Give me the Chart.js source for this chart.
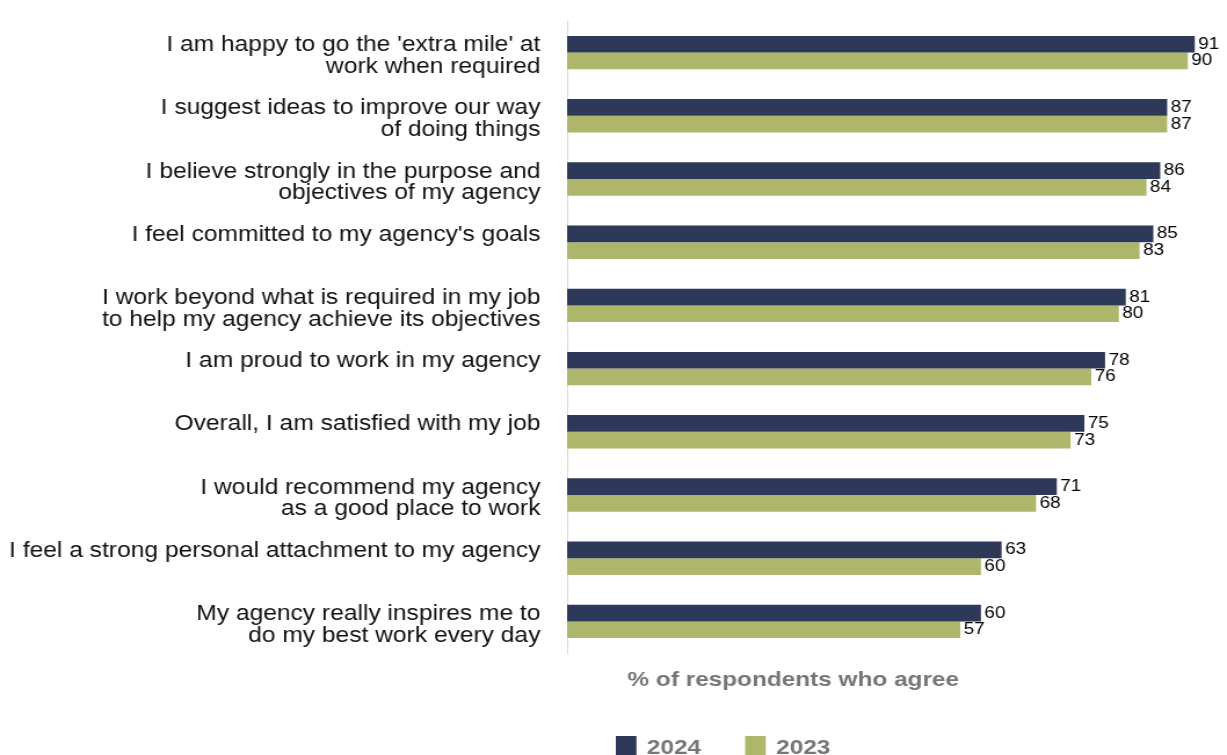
<!DOCTYPE html>
<html>
<head>
<meta charset="utf-8">
<script src="https://cdn.jsdelivr.net/npm/chart.js@4/dist/chart.umd.min.js"></script>
<style>
  html, body { margin: 0; padding: 0; background: #fff; overflow: hidden; }
  /* the chart is laid out on a narrower box and widened to the window */
  #wrap { width: 1058px; height: 755px; transform: scaleX(1.1597); transform-origin: 0 0; }
</style>
</head>
<body>
<div id="wrap"><canvas id="engagement"></canvas></div>
<script>
// Survey items, top to bottom (single-line items get an empty 2nd line so they sit like the others)
const items = [
    ["I am happy to go the 'extra mile' at", "work when required"],
    ["I suggest ideas to improve our way", "of doing things"],
    ["I believe strongly in the purpose and", "objectives of my agency"],
    ["I feel committed to my agency's goals", ""],
    ["I work beyond what is required in my job", "to help my agency achieve its objectives"],
    ["I am proud to work in my agency", ""],
    ["Overall, I am satisfied with my job", ""],
    ["I would recommend my agency", "as a good place to work"],
    ["I feel a strong personal attachment to my agency", ""],
    ["My agency really inspires me to", "do my best work every day"]
];

const years = ['2024', '2023'];
const agree2024 = [91, 87, 86, 85, 81, 78, 75, 71, 63, 60];
const agree2023 = [90, 87, 84, 83, 80, 76, 73, 68, 60, 57];

const axisTitle = '% of respondents who agree';

const NAVY = '#2e3859';
const OLIVE = '#aeb66b';
const GREY_TEXT = '#767676';

// Numbers at the end of each bar
const barValues = {
    id: 'barValues',
    afterDatasetsDraw(chart) {
        const ctx = chart.ctx;
        ctx.save();
        ctx.font = '16.3px "Liberation Sans", Arial, sans-serif';
        ctx.fillStyle = '#000';
        ctx.textAlign = 'left';
        ctx.textBaseline = 'middle';
        chart.data.datasets.forEach((ds, i) => {
            chart.getDatasetMeta(i).data.forEach((bar, j) => {
                ctx.fillText(ds.data[j], bar.x + 3, bar.y);
            });
        });
        ctx.restore();
    }
};

// Axis caption and legend under the plot
const captionAndLegend = {
    id: 'captionAndLegend',
    afterDraw(chart) {
        const ctx = chart.ctx;
        ctx.save();
        ctx.font = 'bold 21px "Liberation Sans", Arial, sans-serif';
        ctx.fillStyle = GREY_TEXT;
        ctx.textBaseline = 'alphabetic';
        ctx.textAlign = 'center';
        ctx.fillText(axisTitle, 684, 686);

        ctx.textAlign = 'left';
        let x = 531;
        chart.data.datasets.forEach(ds => {
            ctx.fillStyle = ds.backgroundColor;
            ctx.fillRect(x, 736, 17.8, 21);
            x += 17.8 + 9;
            ctx.fillStyle = GREY_TEXT;
            ctx.fillText(ds.label, x, 754);
            x += ctx.measureText(ds.label).width + 38;
        });
        ctx.restore();
    }
};

new Chart(document.getElementById('engagement'), {
    type: 'bar',
    data: {
        labels: items,
        datasets: [
            { label: years[0], data: agree2024, backgroundColor: NAVY },
            { label: years[1], data: agree2023, backgroundColor: OLIVE }
        ]
    },
    options: {
        indexAxis: 'y',
        responsive: true,
        maintainAspectRatio: false,
        animation: false,
        layout: { padding: { top: 21, right: 4, bottom: 102, left: 0 } },
        datasets: {
            bar: { categoryPercentage: 0.528, barPercentage: 1.0 }
        },
        plugins: {
            legend: { display: false },
            tooltip: { enabled: false }
        },
        scales: {
            x: {
                display: false,
                min: 0,
                max: 95
            },
            y: {
                grid: { display: false, drawTicks: false },
                border: { display: true, color: '#d9d9d9', width: 1 },
                ticks: {
                    color: '#111',
                    padding: 23,
                    labelOffset: 3.5,
                    font: { family: '"Liberation Sans", Arial, sans-serif', size: 21.2, lineHeight: '21.6px' }
                },
                afterFit(scale) {
                    scale.width = 489;
                    scale.paddingTop = 0;
                    scale.paddingBottom = 0;
                }
            }
        }
    },
    plugins: [barValues, captionAndLegend]
});
</script>
</body>
</html>
